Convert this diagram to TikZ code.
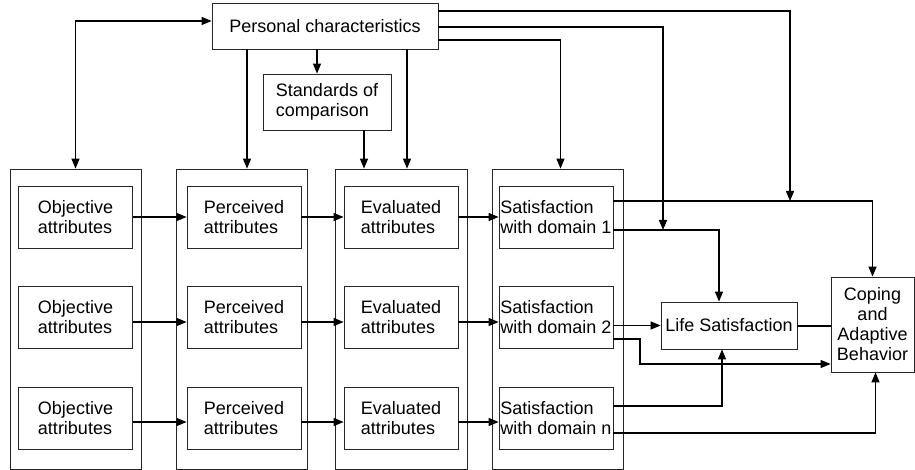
\documentclass[tikz,border=0pt]{standalone}
\usepackage{fontspec}
\setmainfont{Liberation Sans}
\usetikzlibrary{arrows.meta}

\tikzset{
  box/.style={draw=black!85, line width=0.8pt, inner sep=1pt, align=left,
    minimum width=114pt, minimum height=62pt},
  colbox/.style={draw=black!85, line width=0.8pt, minimum width=131pt, minimum height=300pt},
  conn/.style={line width=1.3pt, -{Triangle[length=10pt,width=8pt]}},
  plain/.style={line width=1.3pt},
}

\begin{document}
\begin{tikzpicture}[x=1pt, y=-1pt, font=\fontsize{18}{20}\selectfont]
\useasboundingbox (0,0) rectangle (915,470);
% top boxes
\node[box, minimum width=226pt, minimum height=46pt] (pc) at (325,26) {Personal characteristics};
\node[box, minimum width=128pt, minimum height=56pt] (soc) at (327,102) {Standards of\\comparison};
% column frames
\node[colbox] (col1) at (75.5,319) {};
\node[colbox] (col2) at (241.5,319) {};
\node[colbox, minimum width=132pt] (col3) at (401,319) {};
\node[colbox] (col4) at (557.5,319) {};
% rows
\node[box] (o1) at (75.5,217) {Objective\\attributes};
\node[box] (o2) at (75.5,317.5) {Objective\\attributes};
\node[box] (o3) at (75.5,418) {Objective\\attributes};
\node[box] (p1) at (244,217) {Perceived\\attributes};
\node[box] (p2) at (244,317.5) {Perceived\\attributes};
\node[box] (p3) at (244,418) {Perceived\\attributes};
\node[box] (e1) at (401,217) {Evaluated\\attributes};
\node[box] (e2) at (401,317.5) {Evaluated\\attributes};
\node[box] (e3) at (401,418) {Evaluated\\attributes};
\node[box] (s1) at (556,217) {Satisfaction\\with domain 1};
\node[box] (s2) at (556,317.5) {Satisfaction\\with domain 2};
\node[box] (s3) at (556,418) {Satisfaction\\with domain n};
% outcomes
\node[box, minimum width=136pt, minimum height=47pt] (ls) at (729,325.5) {Life Satisfaction};
\node[box, align=center, minimum width=83pt, minimum height=95pt] (cab) at (872.5,324.5) {Coping\\and\\Adaptive\\Behavior};
\coordinate (j1) at (790,201);
\coordinate (j2) at (663,230);
\coordinate (k) at (640,364);

% from personal characteristics
\draw[plain, {Triangle[length=10pt,width=8pt]}-{Triangle[length=10pt,width=8pt]}] (col1.north) |- ([yshift=5pt]pc.west);
\draw[conn] ([xshift=-78pt]pc.south) -- ([xshift=-78pt]pc.south |- col2.north);
\draw[conn] ([xshift=-8pt]pc.south) -- ([xshift=-8pt]pc.south |- soc.north);
\draw[conn] ([xshift=82pt]pc.south) -- ([xshift=82pt]pc.south |- col3.north);
\draw[conn] ([xshift=37pt]soc.south) -- ([xshift=37pt]soc.south |- col3.north);
\draw[conn] ([yshift=15pt]pc.east) -| (j1);
\draw[conn] ([yshift=-1pt]pc.east) -| (j2);
\draw[conn] ([yshift=-14pt]pc.east) -| ([xshift=3pt]col4.north);

% along the rows
\foreach \r/\d in {1/0,2/-4.5,3/-4}{
  \draw[conn] ([yshift=\d pt]o\r.east) -- ([yshift=\d pt]p\r.west);
  \draw[conn] ([yshift=\d pt]p\r.east) -- ([yshift=\d pt]e\r.west);
  \draw[conn] ([yshift=\d pt]e\r.east) -- ([yshift=\d pt]s\r.west);
}

% to the outcomes
\draw[conn] ([yshift=16pt]s1.east) -| (cab.north);
\draw[conn] ([yshift=-13pt]s1.east) -| ([xshift=-10pt]ls.north);
\draw[conn] (s2.east |- ls.west) -- (ls.west);
\draw[conn] ([yshift=-21.5pt]s2.east) -| (k) -- (k -| cab.west);
\draw[conn] ([yshift=12pt]s3.east) -| ([xshift=-7pt]ls.south);
\draw[conn] ([yshift=-15pt]s3.east) -| ([xshift=3pt]cab.south);
\draw[line width=2pt] (ls.east) -- (ls.east -| cab.west);
\end{tikzpicture}
\end{document}
